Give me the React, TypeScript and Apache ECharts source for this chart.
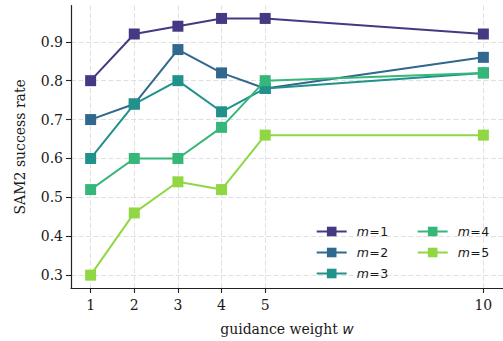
import React, { useEffect, useRef } from "react";
import * as echarts from "echarts";

const weights = [1, 2, 3, 4, 5, 10];
const seriesNames = ["m=1", "m=2", "m=3", "m=4", "m=5"];
const m1 = [0.8, 0.92, 0.94, 0.96, 0.96, 0.92];
const m2 = [0.7, 0.74, 0.88, 0.82, 0.78, 0.86];
const m3 = [0.6, 0.74, 0.8, 0.72, 0.78, 0.82];
const m4 = [0.52, 0.6, 0.6, 0.68, 0.8, 0.82];
const m5 = [0.3, 0.46, 0.54, 0.52, 0.66, 0.66];
const yTicks = [0.3, 0.4, 0.5, 0.6, 0.7, 0.8, 0.9];
const colors = ["#443983", "#31688e", "#21918c", "#35b779", "#90d743"];

const allValues = [m1, m2, m3, m4, m5];

export default function App() {
  const ref = useRef<HTMLDivElement>(null);
  useEffect(() => {
    if (!ref.current) return;
    const chart = echarts.init(ref.current, undefined, { renderer: "svg" });
    const serif = "DejaVu Serif";
    const gridLine = { show: true, lineStyle: { color: "#e0e0e0", width: 1, type: [5, 2.5] as any } };
    const lf = 12.5;
    const legendText = {
      fontFamily: "DejaVu Sans",
      fontSize: lf,
      color: "#1a1a1a",
      rich: {
        i: { fontFamily: "DejaVu Sans", fontStyle: "italic", fontSize: lf, color: "#1a1a1a", padding: [0, 0, 0, 5] },
        e: { fontFamily: "DejaVu Sans", fontSize: lf, color: "#1a1a1a", padding: [0, 0.5, 0, 0.5] },
        n: { fontFamily: "DejaVu Sans", fontSize: lf, color: "#1a1a1a" },
      },
    };
    const fmt = (name: string) => "{i|m}{e|=}{n|" + name.slice(2) + "}";
    const legendBase = {
      orient: "vertical",
      top: 225,
      padding: 0,
      itemWidth: 30,
      itemHeight: 12,
      itemGap: 8,
      textStyle: legendText,
      formatter: fmt,
    };
    chart.setOption({
      animation: false,
      backgroundColor: "#ffffff",
      grid: { left: 71, top: 5.6, width: 433.7, height: 286.4, containLabel: false },
      xAxis: {
        type: "value",
        min: 0.55,
        max: 10.45,
        name: "guidance weight {w|w}",
        nameLocation: "middle",
        nameGap: 34,
        nameTextStyle: {
          fontFamily: serif,
          fontSize: 14,
          color: "#1a1a1a",
          verticalAlign: "top",
          rich: { w: { fontFamily: "DejaVu Sans", fontStyle: "italic", fontSize: 14, color: "#1a1a1a" } },
        },
        axisLine: { show: true, onZero: false, lineStyle: { color: "#222", width: 1.2 } },
        axisTick: { show: true, length: 5, lineStyle: { color: "#222", width: 1.1 }, customValues: weights },
        axisLabel: { fontFamily: serif, fontSize: 14, color: "#1a1a1a", margin: 10, customValues: weights },
        splitLine: gridLine,
      },
      yAxis: {
        type: "value",
        min: 0.267,
        max: 0.993,
        name: "SAM2 success rate",
        nameLocation: "middle",
        nameGap: 44,
        nameTextStyle: { fontFamily: serif, fontSize: 14, color: "#1a1a1a" },
        axisLine: { show: true, onZero: false, lineStyle: { color: "#222", width: 1.2 } },
        axisTick: { show: true, length: 5, lineStyle: { color: "#222", width: 1.1 }, customValues: yTicks },
        axisLabel: {
          fontFamily: serif,
          fontSize: 14,
          color: "#1a1a1a",
          margin: 8,
          customValues: yTicks,
          formatter: (v: number) => v.toFixed(1),
        },
        splitLine: gridLine,
      },
      legend: [
        { ...legendBase, data: seriesNames.slice(0, 3), left: 315.7 },
        { ...legendBase, data: seriesNames.slice(3), left: 416.7 },
      ],
      series: allValues.map((vals, i) => ({
        name: seriesNames[i],
        type: "line",
        data: weights.map((w, j) => [w, vals[j]]),
        symbol: "rect",
        symbolSize: 11,
        showSymbol: true,
        color: colors[i],
        lineStyle: { width: 2, color: colors[i] },
        itemStyle: { color: colors[i] },
        z: 2 + i,
      })),
    });
    return () => chart.dispose();
  }, []);
  return <div ref={ref} style={{ position: "absolute", left: 0, top: 0, width: 503, height: 341 }} />;
}
